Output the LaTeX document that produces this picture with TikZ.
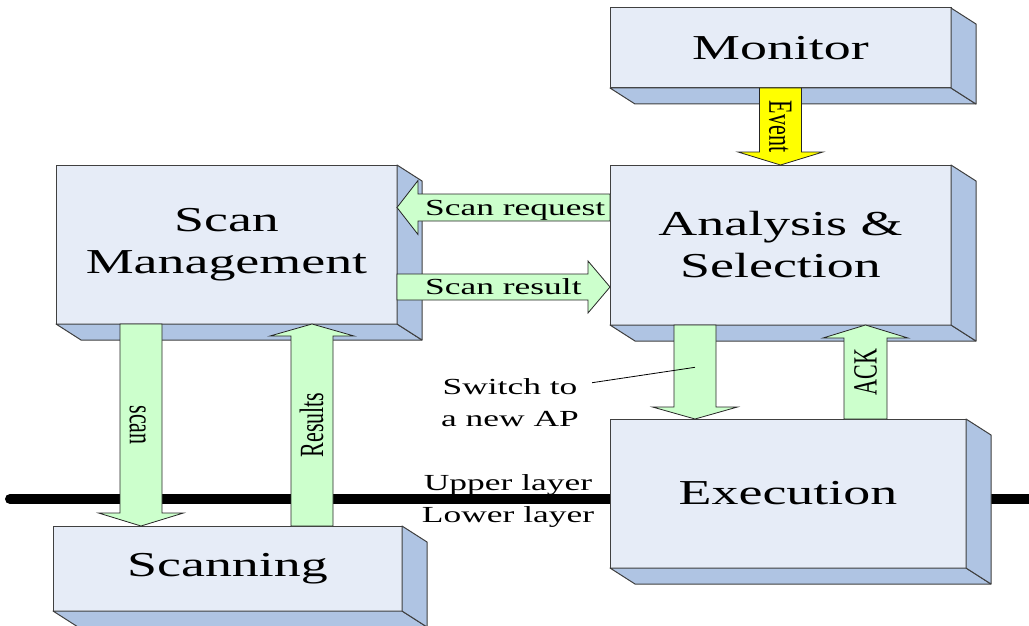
\documentclass[tikz,border=0pt]{standalone}
\usepackage{fontspec}
\setmainfont{Liberation Serif}
\newfontfamily\wideserif[FakeStretch=1.54]{Liberation Serif}
\usetikzlibrary{calc}

\definecolor{facefront}{HTML}{E6ECF7}
\definecolor{faceside}{HTML}{AFC4E3}
\definecolor{boxedge}{HTML}{404040}
\definecolor{arrowgreen}{HTML}{CCFFCC}
\definecolor{arrowyellow}{HTML}{FFFF00}

\tikzset{
  unitbox/.style={draw=boxedge, line width=1pt, fill=facefront, inner sep=0pt,
    outer sep=0pt, align=center, font=\wideserif\fontsize{35}{42}\selectfont},
  sideface/.style={draw=boxedge, line width=1pt, fill=faceside, line join=round},
  flow/.style={draw=black!85, line width=0.8pt, fill=arrowgreen},
  flowlabel/.style={inner sep=0pt, font=\wideserif\fontsize{23}{28}\selectfont,
    text height=15.2pt, text depth=0pt},
  vlabel/.style={inner sep=0pt, font=\fontsize{22}{26}\selectfont,
    text height=22.4pt, text depth=0pt},
  notelabel/.style={inner sep=0pt, align=center, font=\wideserif\fontsize{23}{32}\selectfont},
}

% box with a front face and two shaded side faces (depth 25 x 16)
\newcommand\solidbox[5]{%
  \node[unitbox, minimum width=#3pt, minimum height=#4pt] (#1) at (#2) {#5};
  \path[sideface] (#1.south west) -- ++(25,16) -- ($(#1.south east)+(25,16)$)
    -- (#1.south east) -- cycle;
  \path[sideface] (#1.north east) -- ++(25,16) -- ($(#1.south east)+(25,16)$)
    -- (#1.south east) -- cycle;
}

% block arrow: tail, tip, shaft half width, head half width, head length, style
\newcommand\blockarrow[6]{%
  \path[#6] ($(#1)!#3!90:(#2)$)
    -- ($(#2)!#5!(#1)!#3!-90:(#1)$)
    -- ($(#2)!#5!(#1)!#4!-90:(#1)$)
    -- (#2)
    -- ($(#2)!#5!(#1)!#4!90:(#1)$)
    -- ($(#2)!#5!(#1)!#3!90:(#1)$)
    -- ($(#1)!#3!-90:(#2)$) -- cycle;
}

\begin{document}
\begin{tikzpicture}[x=1pt,y=-1pt]
\useasboundingbox (0,0) rectangle (1029,626);

% boundary between the upper and lower layer
\coordinate (layL) at (10,499);
\coordinate (layR) at (1040,499);
\draw[line width=10pt, line cap=round] (layL) -- (layR);

% functional blocks
\solidbox{mon}{780.5,48}{341}{80}{Monitor}
\solidbox{ana}{780.5,245}{341}{160}{Analysis \&\\Selection}
\solidbox{sm}{226.5,244.5}{341}{159}{Scan\\Management}
\solidbox{sc}{227.5,568.5}{349}{85}{Scanning}
\solidbox{ex}{788,493.5}{356}{149}{Execution}

% Monitor -> Analysis & Selection
\coordinate (evT) at (mon.south);
\coordinate (evH) at (ana.north);
\blockarrow{evT}{evH}{21pt}{42.5pt}{13pt}{flow, fill=arrowyellow}
\node[vlabel, rotate=-90] (evL) at ($(evT)!0.5!(evH)$) {\scalebox{1}[1.54]{Event}};

% Analysis & Selection -> Scan Management
\coordinate (rqT) at ($(ana.north west)+(0,42.5)$);
\coordinate (rqH) at (sm.east |- rqT);
\blockarrow{rqT}{rqH}{13.5pt}{27pt}{21pt}{flow}
\node[flowlabel, anchor=west] (rqL) at ($(rqH)+(28,0)$) {Scan request};

% Scan Management -> Analysis & Selection
\coordinate (rsT) at ($(sm.north east)+(0,122)$);
\coordinate (rsH) at (ana.west |- rsT);
\blockarrow{rsT}{rsH}{13pt}{26pt}{22pt}{flow}
\node[flowlabel, anchor=west] (rsL) at ($(rsT)+(28,0)$) {Scan result};

% Scan Management -> Scanning
\coordinate (scT) at ($(sm.south west)+(85,0)$);
\coordinate (scH) at (scT |- sc.north);
\blockarrow{scT}{scH}{21pt}{42.5pt}{13pt}{flow}
\node[vlabel, rotate=-90] (scL) at ($(scT)!0.5!(scH)$) {\scalebox{1}[1.54]{scan}};

% Scanning -> Scan Management
\coordinate (reT) at ($(sc.north west)+(259,0)$);
\coordinate (reH) at (reT |- sm.south);
\blockarrow{reT}{reH}{21pt}{42pt}{12pt}{flow}
\node[vlabel, rotate=90] (reL) at ($(reT)!0.5!(reH)$) {\scalebox{1}[1.54]{Results}};

% Analysis & Selection -> Execution
\coordinate (swT) at ($(ana.south west)+(85,0)$);
\coordinate (swH) at (swT |- ex.north);
\blockarrow{swT}{swH}{21pt}{42.5pt}{12pt}{flow}

% Execution -> Analysis & Selection
\coordinate (akT) at ($(ex.north west)+(255.5,0)$);
\coordinate (akH) at (akT |- ana.south);
\blockarrow{akT}{akH}{21.5pt}{42.5pt}{13pt}{flow}
\node[vlabel, rotate=90] (akL) at ($(akT)!0.5!(akH)$) {\scalebox{1}[1.54]{ACK}};

% note on the switch command
\node[notelabel] (swN) at (510,403) {Switch to\\a new AP};
\coordinate (swP) at ($(swT)!0.45!(swH)$);
\draw[line width=0.8pt] ($(swN.north east)+(13,4)$) -- (swP);

% layer names
\node[notelabel, anchor=base] (upL) at (508,490) {Upper layer};
\node[notelabel, anchor=base] (loL) at (508,522) {Lower layer};
\end{tikzpicture}
\end{document}
